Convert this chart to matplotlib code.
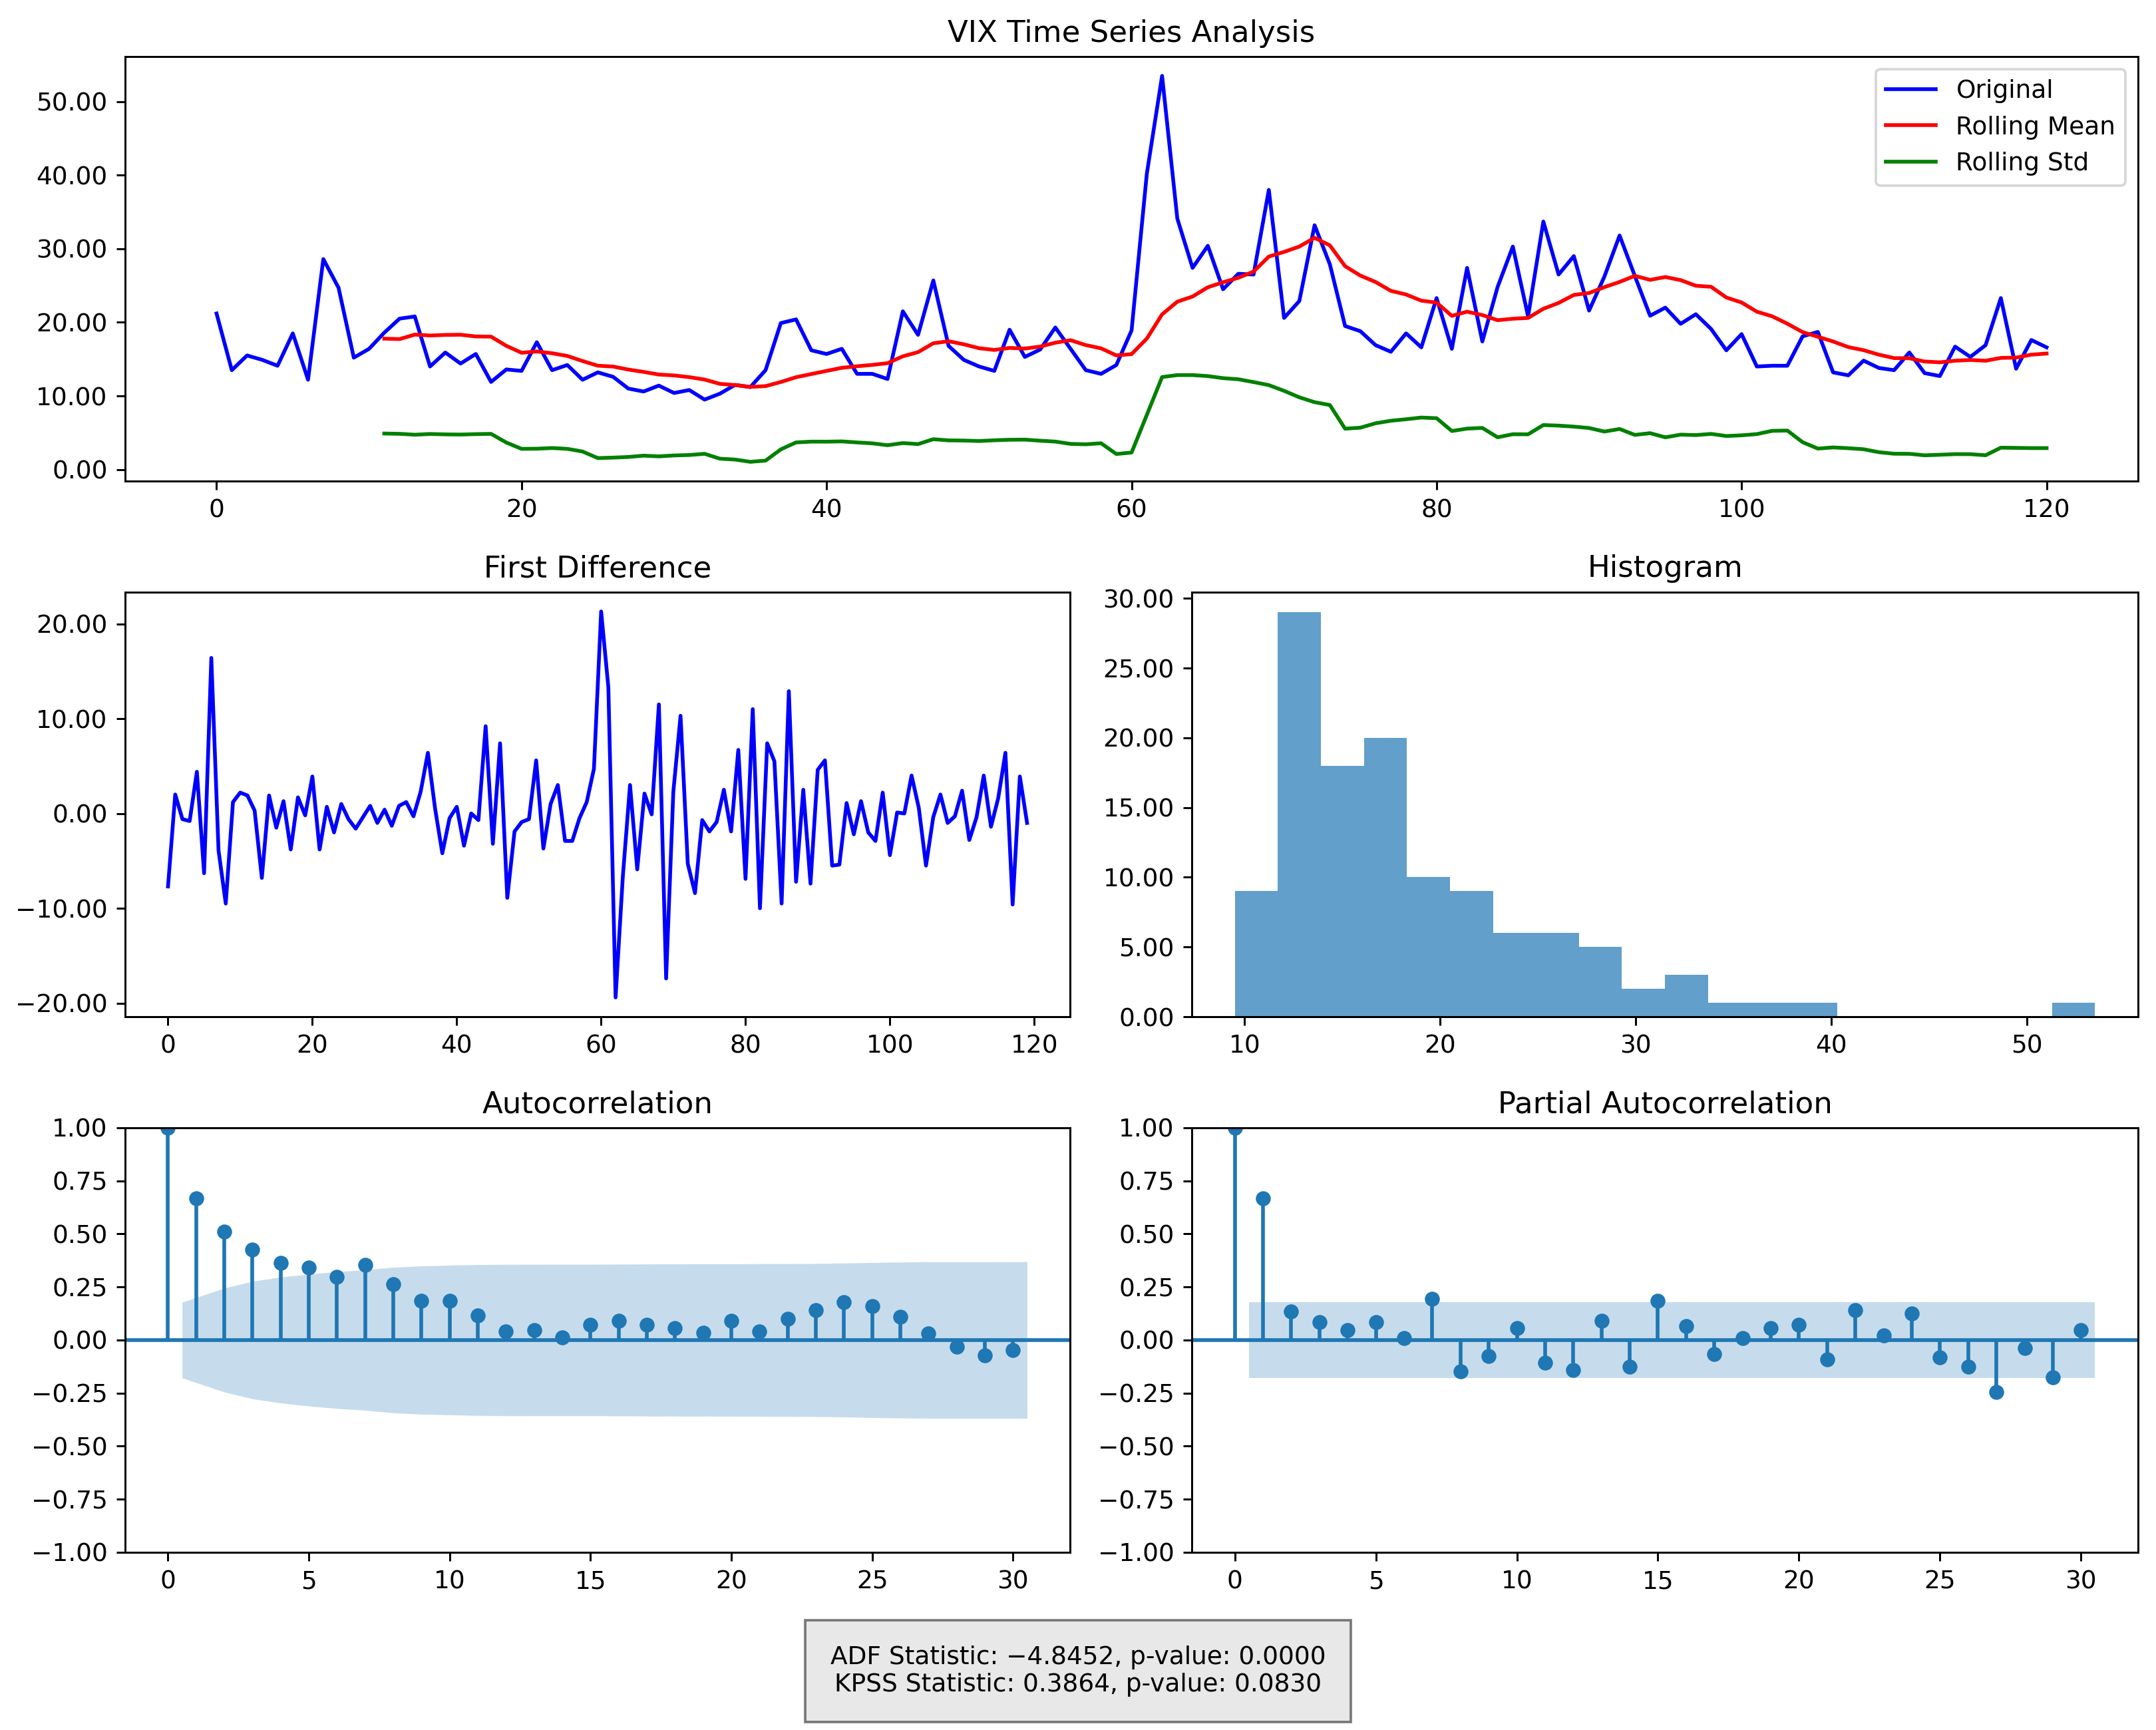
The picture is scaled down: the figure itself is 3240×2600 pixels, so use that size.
import numpy as np
import pandas as pd
from matplotlib import pyplot as plt
from matplotlib.ticker import FuncFormatter

vix = [21.2, 13.5, 15.5, 14.9, 14.1, 18.5, 12.2, 28.6, 24.7, 15.2,
       16.4, 18.6, 20.5, 20.8, 14.0, 15.9, 14.4, 15.7, 11.9, 13.6,
       13.4, 17.3, 13.5, 14.2, 12.2, 13.2, 12.6, 11.0, 10.6, 11.4,
       10.4, 10.8, 9.5, 10.3, 11.5, 11.2, 13.5, 19.9, 20.4, 16.2,
       15.7, 16.4, 13.0, 13.0, 12.3, 21.5, 18.3, 25.7, 16.8, 14.9,
       14.0, 13.4, 19.0, 15.3, 16.3, 19.3, 16.4, 13.5, 13.0, 14.2,
       18.9, 40.2, 53.5, 34.1, 27.4, 30.4, 24.5, 26.6, 26.5, 38.0,
       20.6, 22.9, 33.2, 27.9, 19.5, 18.8, 16.9, 16.0, 18.5, 16.6,
       23.3, 16.4, 27.4, 17.4, 24.8, 30.3, 20.8, 33.7, 26.5, 29.0,
       21.6, 26.2, 31.8, 26.3, 20.9, 22.0, 19.8, 21.1, 19.1, 16.2,
       18.4, 14.0, 14.1, 14.1, 18.1, 18.7, 13.2, 12.8, 14.8, 13.8,
       13.5, 15.9, 13.1, 12.7, 16.7, 15.3, 16.9, 23.3, 13.7, 17.6,
       16.6]

hist_counts = [9, 29, 18, 20, 10, 9, 6, 6, 5, 2,
               3, 1, 1, 1, 0, 0, 0, 0, 0, 1]

acf_vals = [1.0, 0.667, 0.512, 0.425, 0.365, 0.341, 0.297, 0.355, 0.264, 0.184,
            0.184, 0.116, 0.041, 0.048, 0.012, 0.072, 0.091, 0.072, 0.057, 0.033,
            0.091, 0.041, 0.100, 0.142, 0.177, 0.159, 0.109, 0.032, -0.030, -0.072,
            -0.048]

pacf_vals = [1.0, 0.667, 0.135, 0.083, 0.048, 0.083, 0.008, 0.193, -0.149, -0.074,
             0.057, -0.106, -0.142, 0.091, -0.126, 0.184, 0.065, -0.065, 0.008, 0.057,
             0.072, -0.090, 0.142, 0.022, 0.126, -0.083, -0.126, -0.246, -0.039, -0.177,
             0.048]

adf_stat, adf_p = -4.8452, 0.0000
kpss_stat, kpss_p = 0.3864, 0.0830

window = 12
n_bins = 20

series = pd.Series(vix)
roll_mean = series.rolling(window).mean()
roll_std = series.rolling(window).std()
first_diff = np.diff(vix)
n_obs = len(vix)


def two_dec(v, pos):
    return ('%.2f' % v).replace('-', '\u2212')


fmt = FuncFormatter(two_dec)

fig = plt.figure(figsize=(12, 2600 / 270), dpi=270)

# top: series with rolling stats
ax1 = fig.add_axes([0.0580, 0.7219, 0.9337, 0.2454])
ax1.plot(series.index, series, color='blue', label='Original')
ax1.plot(roll_mean.index, roll_mean, color='red', label='Rolling Mean')
ax1.plot(roll_std.index, roll_std, color='green', label='Rolling Std')
ax1.set_title('VIX Time Series Analysis')
ax1.legend(loc='upper right')
ax1.yaxis.set_major_formatter(fmt)

# first difference
ax2 = fig.add_axes([0.0580, 0.4123, 0.4383, 0.2454])
ax2.plot(np.arange(len(first_diff)), first_diff, color='blue')
ax2.set_title('First Difference')
ax2.yaxis.set_major_formatter(fmt)

# histogram
ax3 = fig.add_axes([0.5528, 0.4123, 0.4389, 0.2454])
edges = np.linspace(min(vix), max(vix), n_bins + 1)
ax3.bar(edges[:-1], hist_counts, width=np.diff(edges), align='edge',
        color='C0', alpha=0.7, linewidth=0)
ax3.set_title('Histogram')
ax3.yaxis.set_major_formatter(fmt)


def corr_panel(ax, vals, band, title):
    lags = np.arange(len(vals))
    ax.vlines(lags, 0, vals, color='C0', linewidth=1.5)
    ax.axhline(0, color='C0', linewidth=1.5)
    bx = lags[1:].astype(float)
    bx[0] -= 0.5
    bx[-1] += 0.5
    ax.fill_between(bx, -band[1:], band[1:], color='C0', alpha=0.25, linewidth=0)
    ax.margins(0.05)
    ax.plot(lags, vals, 'o', color='C0', markersize=5)
    ax.set_title(title)
    ax.set_ylim(-1, 1)
    ax.yaxis.set_major_formatter(fmt)


acf_arr = np.array(acf_vals)
var_acf = np.ones(len(acf_arr)) / n_obs
var_acf[0] = 0
var_acf[1] = 1.0 / n_obs
var_acf[2:] *= 1 + 2 * np.cumsum(acf_arr[1:-1] ** 2)
acf_band = 1.96 * np.sqrt(var_acf)
pacf_band = np.full(len(pacf_vals), 1.96 / np.sqrt(n_obs))

ax4 = fig.add_axes([0.0580, 0.1027, 0.4383, 0.2454])
corr_panel(ax4, acf_vals, acf_band, 'Autocorrelation')

ax5 = fig.add_axes([0.5528, 0.1027, 0.4389, 0.2454])
corr_panel(ax5, pacf_vals, pacf_band, 'Partial Autocorrelation')

stats_txt = ('ADF Statistic: %.4f, p-value: %.4f\nKPSS Statistic: %.4f, p-value: %.4f'
             % (adf_stat, adf_p, kpss_stat, kpss_p)).replace('-4', '\u22124')
fig.text(0.5, 0.034, stats_txt, ha='center', va='center', fontsize=10,
         bbox=dict(facecolor='lightgray', alpha=0.5, pad=10))

fig.savefig('out.png', dpi=270)
